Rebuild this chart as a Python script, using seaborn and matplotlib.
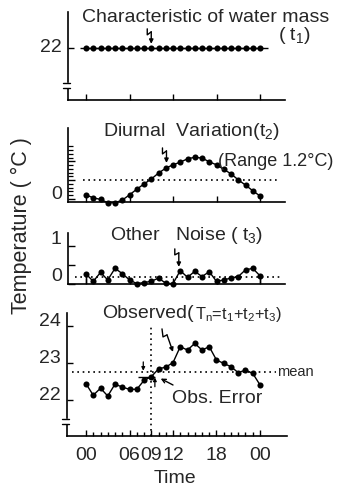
import matplotlib
matplotlib.use("Agg")
import matplotlib.pyplot as plt
from matplotlib.lines import Line2D
from matplotlib.patches import Rectangle
import seaborn as sns

# ---- data (hourly, 00h .. 24h) ----
hours = list(range(25))
water_mass = [22.0, 22.0, 22.0, 22.0, 22.0, 22.0, 22.0, 22.0, 22.0, 22.0, 22.0, 22.0, 22.0,
              22.0, 22.0, 22.0, 22.0, 22.0, 22.0, 22.0, 22.0, 22.0, 22.0, 22.0, 22.0]
diurnal = [0.11, 0.03, -0.01, -0.10, -0.10, -0.03, 0.11, 0.26, 0.40, 0.53, 0.69, 0.82, 0.91,
           0.98, 1.07, 1.11, 1.09, 0.99, 0.91, 0.79, 0.67, 0.51, 0.37, 0.22, 0.08]
noise = [0.26, 0.06, 0.30, 0.10, 0.41, 0.27, 0.10, 0.00, 0.03, 0.06, 0.15, 0.01, 0.00,
         0.35, 0.17, 0.33, 0.19, 0.32, 0.06, 0.10, 0.15, 0.19, 0.37, 0.41, 0.21]
observed = [22.44, 22.13, 22.32, 22.11, 22.43, 22.35, 22.29, 22.29, 22.53, 22.63, 22.84, 22.89, 23.01,
            23.44, 23.35, 23.53, 23.35, 23.44, 23.08, 22.99, 22.90, 22.74, 22.81, 22.72, 22.41]
time_ticks = [0, 6, 9, 12, 18, 24]
time_labels = ["00", "06", "09", "12", "18", "00"]
obs_hour = 9

sns.set_style("ticks")
plt.rcParams["font.family"] = ["Liberation Sans", "DejaVu Sans"]
plt.rcParams["mathtext.fontset"] = "custom"
plt.rcParams["mathtext.rm"] = "Liberation Sans"
plt.rcParams["mathtext.it"] = "Liberation Sans"
plt.rcParams["mathtext.default"] = "regular"

W, H = 343, 486
fig = plt.figure(figsize=(W / 100, H / 100), dpi=100)
fig.patch.set_facecolor("white")

PX_PER_HOUR = 7.25
X0 = 86  # pixel column of hour 0
DOT = (0, (1, 2.2))
FS = 14


def fx(px):
    return px / W


def fy(py):
    return 1 - py / H


def panel(top, bottom, ylim, left=68, right=285):
    ax = fig.add_axes([fx(left), fy(bottom), (right - left) / W, (bottom - top) / H])
    ax.set_xlim((left - X0) / PX_PER_HOUR, (right - X0) / PX_PER_HOUR)
    ax.set_ylim(*ylim)
    ax.set_facecolor("none")
    for s in ("top", "right"):
        ax.spines[s].set_visible(False)
    for s in ("left", "bottom"):
        ax.spines[s].set_linewidth(1.2)
        ax.spines[s].set_color("black")
    ax.tick_params(which="both", direction="in", color="black", width=1.0, labelsize=FS)
    ax.tick_params(which="major", length=4)
    ax.tick_params(which="minor", length=2.5)
    ax.set_xticks([0, 6, 12, 18, 24])
    ax.set_xticklabels([])
    ax.set_yticks([])
    return ax


def to_px(ax, x, y):
    dx, dy = ax.transData.transform((x, y))
    return dx, H - dy


def seg(pts, lw=1.0):
    fig.add_artist(Line2D([fx(p[0]) for p in pts], [fy(p[1]) for p in pts],
                          transform=fig.transFigure, color="black", lw=lw, zorder=6))


def arrow_to(ax, x, y, start_px, head=6, lw=1.0, style="-|>"):
    ax.annotate("", xy=(x, y), xycoords="data",
                xytext=(fx(start_px[0]), fy(start_px[1])), textcoords="figure fraction",
                arrowprops=dict(arrowstyle=style, color="black", lw=lw,
                                mutation_scale=head, shrinkA=0, shrinkB=0))


def zigzag(ax, x, y, path):
    tx, ty = to_px(ax, x, y)
    pts = [(tx + dx, ty + dy) for dx, dy in path]
    seg(pts)
    arrow_to(ax, x, y, pts[-1])


def ylabel_at(ax, val, text, lift=0):
    ax.annotate(text, xy=(0, val), xycoords=ax.get_yaxis_transform(),
                xytext=(-4.5, lift), textcoords="offset points",
                ha="right", va="center", fontsize=FS)


def axis_break(ax, val):
    x0, py = to_px(ax, ax.get_xlim()[0], val)
    fig.add_artist(Rectangle((fx(x0 - 2), fy(py + 2)), 4 / W, 4 / H,
                             transform=fig.transFigure, color="white", zorder=5))
    seg([(x0 - 5, py - 2.5), (x0 + 2, py - 2.5)])
    seg([(x0 - 5, py + 2.5), (x0 + 2, py + 2.5)])


line_kw = dict(color="black", lw=1.0, marker="o", markersize=4.4,
               markeredgewidth=0, clip_on=False)

# ---- t1 : characteristic of water mass ----
ax1 = panel(12, 100, (20.6, 22.95))
ax1.hlines(22.0, -0.8, 25.1, color="black", lw=1.0)
sns.lineplot(x=hours, y=water_mass, ax=ax1, **line_kw)
ax1.set_yticks([22])
ax1.set_yticklabels([])
ylabel_at(ax1, 22, "22")
axis_break(ax1, 21.0)
zigzag(ax1, 9.0, 22.1, [(-4, -15), (-4, -9), (0, -12)])

# ---- t2 : diurnal variation ----
ax2 = panel(128, 202, (-0.08, 1.89))
ax2.hlines(sum(diurnal) / len(diurnal), -0.4, 26.3, color="black", lw=1.2, linestyles=DOT)
sns.lineplot(x=hours, y=diurnal, ax=ax2, **line_kw)
ax2.set_yticks([0, 0.5, 1.0])
ax2.set_yticklabels([])
ax2.set_yticks([i / 10 for i in range(15)], minor=True)
ax2.tick_params(axis="y", which="minor", length=3.5, width=0.9)
ax2.tick_params(axis="y", which="major", length=5)
ylabel_at(ax2, 0, "0", lift=3)
zigzag(ax2, 11.1, 0.96, [(-4, -15), (-4, -9), (0, -12)])

# ---- t3 : other noise ----
ax3 = panel(233, 284, (-0.01, 1.36))
ax3.hlines(sum(noise) / len(noise), -1.5, 26.8, color="black", lw=1.2, linestyles=DOT)
ax3.vlines([hours[0], hours[-1]], 0, [noise[0], noise[-1]], color="black", lw=1.0)
sns.lineplot(x=hours, y=noise, ax=ax3, **line_kw)
ax3.set_yticks([0, 0.5, 1.0])
ax3.set_yticklabels([])
ax3.tick_params(axis="y", which="major", length=5)
ylabel_at(ax3, 0, "0", lift=5)
ylabel_at(ax3, 1, "1", lift=5)
zigzag(ax3, 12.8, 0.45, [(-4, -18), (-4, -12), (0, -14)])

# ---- observed ----
ax4 = panel(313, 436, (21.03, 24.35), left=67, right=287)
obs_mean = sum(observed) / len(observed)
ax4.hlines(obs_mean, -1.9, 26.2, color="black", lw=1.2, linestyles=DOT)
ax4.vlines(obs_hour, 21.03, 23.97, color="black", lw=1.2, linestyles=DOT)
sns.lineplot(x=hours, y=observed, ax=ax4, **line_kw)
ax4.set_yticks([22, 23, 24])
ax4.set_yticklabels([])
for v in (22, 23, 24):
    ylabel_at(ax4, v, str(v), lift=3)
ax4.set_xticks(time_ticks)
ax4.set_xticklabels(time_labels)
ax4.set_xticks(hours, minor=True)
ax4.tick_params(axis="x", which="major", pad=8, length=4.5)
ax4.tick_params(axis="x", which="minor", length=3)
axis_break(ax4, 21.43)
for a in (ax1, ax2, ax3, ax4):
    a.set_xlabel("")
    a.set_ylabel("")

# observation error markers around 09h
ax4.hlines(observed[obs_hour], 7.2, 9.5, color="black", lw=1.0)
ax4.annotate("", xy=(7.9, obs_mean + 0.03), xytext=(7.9, 23.03),
             arrowprops=dict(arrowstyle="-|>", color="black", lw=0.9,
                             mutation_scale=5, shrinkA=0, shrinkB=0))
ax4.annotate("", xy=(9.5, observed[obs_hour] - 0.02), xytext=(9.5, 22.36),
             arrowprops=dict(arrowstyle="-|>", color="black", lw=0.9,
                             mutation_scale=5, shrinkA=0, shrinkB=0))
arrow_to(ax4, 10.3, 22.58, (173, 385), head=7, lw=1.0, style="->")
zigzag(ax4, 12.0, 23.3, [(-11, -23), (-10, -15), (-6, -17)])

# ---- titles and labels ----
fig.text(fx(82), fy(17), "Characteristic of water mass", fontsize=FS, ha="left", va="center")
fig.text(fx(278), fy(36), "( t$_1$)", fontsize=FS, ha="left", va="center")
fig.text(fx(103), fy(132), "Diurnal  Variation(t$_2$)", fontsize=FS, ha="left", va="center")
fig.text(fx(218), fy(162), "(Range 1.2°C)", fontsize=13, ha="left", va="center")
fig.text(fx(110), fy(235), "Other   Noise ( t$_3$)", fontsize=FS, ha="left", va="center")
fig.text(fx(102), fy(314), "Observed(", fontsize=FS, ha="left", va="center")
fig.text(fx(195), fy(315), "$T_n$=t$_1$+t$_2$+t$_3$)", fontsize=11.8, ha="left", va="center")
fig.text(fx(277), fy(372), "mean", fontsize=10.5, ha="left", va="center")
fig.text(fx(172), fy(398), "Obs. Error", fontsize=FS, ha="left", va="center")
fig.text(fx(175), fy(478), "Time", fontsize=FS, ha="center", va="center")
fig.text(fx(21), fy(226), "Temperature ( °C )", fontsize=15.5, rotation=90, ha="center", va="center")

fig.savefig("out.png", dpi=100, facecolor="white")
